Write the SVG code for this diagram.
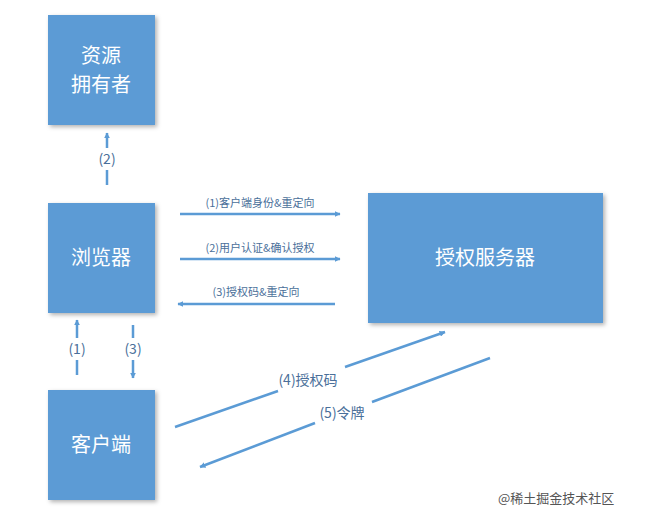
<svg xmlns="http://www.w3.org/2000/svg" width="649" height="514" viewBox="0 0 649 514">
<style>
.box{fill:#5B9BD5;filter:url(#sh)}
.bt{font-family:"Noto Sans CJK SC",sans-serif;font-size:20px;fill:#fff;text-anchor:middle}
.ln{stroke:#5B9BD5;stroke-width:2.5;fill:none;marker-end:url(#ah)}
.ls{stroke:#5B9BD5;stroke-width:2.5;fill:none}
.lb{font-family:"Noto Sans CJK SC",sans-serif;font-size:11px;fill:#4a6f9a;text-anchor:middle}
.lb2{font-family:"Noto Sans CJK SC",sans-serif;font-size:14px;fill:#4a6f9a;text-anchor:middle}
</style>
<defs>
<filter id="sh" x="-10%" y="-10%" width="130%" height="130%"><feDropShadow dx="2" dy="2" stdDeviation="2" flood-color="#000" flood-opacity="0.3"/></filter>
<marker id="ah" viewBox="0 0 10 10" refX="9" refY="5" markerWidth="6" markerHeight="6" orient="auto" markerUnits="userSpaceOnUse"><path d="M0,0 L10,5 L0,10 z" fill="#5B9BD5"/></marker>
</defs>
<rect width="649" height="514" fill="#fff"/>
<g id="owner"><rect class="box" x="48" y="15" width="107" height="110"/><text class="bt" x="101" y="63">资源</text><text class="bt" x="101" y="92">拥有者</text></g>
<g id="browser"><rect class="box" x="48" y="203" width="107" height="110"/><text class="bt" x="101" y="265">浏览器</text></g>
<g id="client"><rect class="box" x="48" y="390" width="107" height="110"/><text class="bt" x="101" y="452">客户端</text></g>
<g id="auth"><rect class="box" x="368" y="193" width="235" height="130"/><text class="bt" x="485" y="265">授权服务器</text></g>
<g id="connectors">
<line class="ls" x1="107" y1="185" x2="107" y2="170"/><line class="ln" x1="107" y1="148" x2="107" y2="133"/>
<text class="lb2" x="107" y="164">(2)</text>
<line class="ls" x1="77" y1="375" x2="77" y2="360"/><line class="ln" x1="77" y1="338" x2="77" y2="320"/>
<text class="lb2" x="77" y="354">(1)</text>
<line class="ls" x1="133" y1="325" x2="133" y2="338"/><line class="ln" x1="133" y1="360" x2="133" y2="378"/>
<text class="lb2" x="133" y="354">(3)</text>
<line class="ln" x1="180" y1="214" x2="340" y2="214"/><text class="lb" x="260" y="207">(1)客户端身份&amp;重定向</text>
<line class="ln" x1="180" y1="259" x2="340" y2="259"/><text class="lb" x="260" y="252">(2)用户认证&amp;确认授权</text>
<line class="ln" x1="335" y1="304" x2="178" y2="304"/><text class="lb" x="256" y="296">(3)授权码&amp;重定向</text>
<line class="ls" x1="175" y1="427" x2="278" y2="391"/><line class="ln" x1="345" y1="367" x2="445" y2="332"/>
<text class="lb2" x="308" y="385">(4)授权码</text>
<line class="ls" x1="490" y1="358" x2="372" y2="402"/><line class="ln" x1="315" y1="423" x2="200" y2="467"/>
<text class="lb2" x="342" y="418">(5)令牌</text>
</g>
<text x="498" y="503" font-family="Noto Sans CJK SC,sans-serif" font-size="13" fill="#555">@稀土掘金技术社区</text>
</svg>
